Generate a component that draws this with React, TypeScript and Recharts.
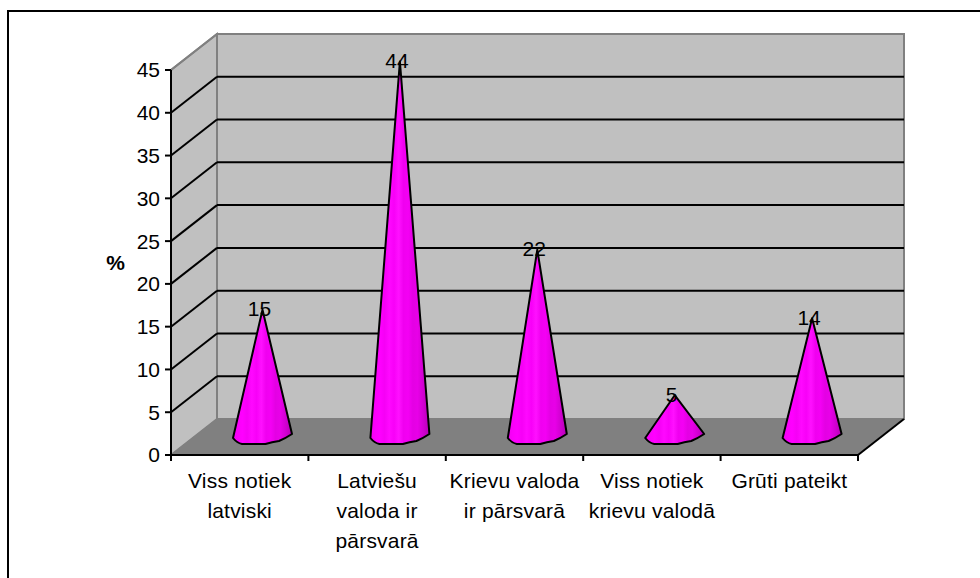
import React from "react";
import { BarChart, Bar, XAxis, YAxis, CartesianGrid, LabelList } from "recharts";

const categories = [
    "Viss notiek\nlatviski",
    "Latviešu\nvaloda ir\npārsvarā",
    "Krievu valoda\nir pārsvarā",
    "Viss notiek\nkrievu valodā",
    "Grūti pateikt",
];
const values = [15, 44, 22, 5, 14];
const yTicks = [0, 5, 10, 15, 20, 25, 30, 35, 40, 45];

const data = categories.map((name, i) => ({ name, value: values[i] }));

const FONT = "'Liberation Sans', Arial, sans-serif";
const WIDTH = 980;
const HEIGHT = 578;
const LEFT = 171;
const RIGHT = 858;
const TOP = 70;
const BOTTOM = 455;
// offset of the back wall from the front axes
const DX = 46;
const DY = -36;
const BAND = (RIGHT - LEFT) / categories.length;

const coneStops = [
    ["0%", "#f000f0"],
    ["8%", "#fa00fa"],
    ["16%", "#ff00ff"],
    ["24%", "#f600f6"],
    ["32%", "#ff08ff"],
    ["40%", "#f800f8"],
    ["48%", "#ff10ff"],
    ["56%", "#f000f0"],
    ["64%", "#f400f4"],
    ["72%", "#e400e4"],
    ["80%", "#e800e8"],
    ["90%", "#d000d0"],
    ["100%", "#b400b4"],
];

const Cone = ({ x, y, width, height }: any) => {
    const cx = x + width / 2 + DX / 2;
    const by = y + height + DY / 2 + 1;
    const top = y + DY / 2 + 1;
    const r = width / 2;
    const d = [
        `M${cx} ${top}`,
        `L${cx + r} ${by - 4}`,
        `Q${cx + r - 6} ${by} ${cx + r - 13} ${by + 3}`,
        `Q${cx + r - 20} ${by + 4} ${cx + 3} ${by + 6}`,
        `L${cx - r + 9} ${by + 6}`,
        `Q${cx - r + 4} ${by + 5} ${cx - r} ${by}`,
        "Z",
    ].join(" ");
    return <path d={d} fill="url(#coneFill)" stroke="#000" strokeWidth={2} strokeLinejoin="round" />;
};

const ValueLabel = ({ x, y, width, value }: any) => (
    <text
        x={x + width / 2 + DX / 2 - 3}
        y={y + DY / 2}
        dy="0.35em"
        textAnchor="middle"
        fontFamily={FONT}
        fontSize={21}
        fill="#000"
    >
        {value}
    </text>
);

// ticks sit on the category boundaries, not under the labels
const CategoryTick = ({ x, y, payload, index }: any) => (
    <g>
        <line x1={x - BAND / 2} y1={y - 8} x2={x - BAND / 2} y2={y - 2} stroke="#000" strokeWidth={2} />
        {index === categories.length - 1 && (
            <line x1={x + BAND / 2} y1={y - 8} x2={x + BAND / 2} y2={y - 2} stroke="#000" strokeWidth={2} />
        )}
        <text x={x} y={y + 25} textAnchor="middle" fontFamily={FONT} fontSize={21} letterSpacing={0.2} fill="#000">
            {String(payload.value).split("\n").map((line, i) => (
                <tspan key={i} x={x} dy={i === 0 ? 0 : 30}>{line}</tspan>
            ))}
        </text>
    </g>
);

// each horizontal grid line runs along the side wall and then the back wall
const WallLine = ({ x1, x2, y1 }: any) => {
    if (Math.abs(y1 - BOTTOM) < 1) return <g />;
    const isTop = Math.abs(y1 - TOP) < 1;
    return (
        <g>
            <line x1={x1} y1={y1} x2={x1 + DX} y2={y1 + DY} stroke={isTop ? "#808080" : "#000"} strokeWidth={2} />
            {!isTop && <line x1={x1 + DX} y1={y1 + DY} x2={x2 + DX} y2={y1 + DY} stroke="#000" strokeWidth={2} />}
        </g>
    );
};

const Walls = () => (
    <svg width={WIDTH} height={HEIGHT} style={{ position: "absolute", left: 0, top: 0 }}>
        <polygon
            points={`${LEFT},${TOP} ${LEFT + DX},${TOP + DY} ${LEFT + DX},${BOTTOM + DY} ${LEFT},${BOTTOM}`}
            fill="#c0c0c0"
            stroke="#808080"
            strokeWidth={2}
        />
        <polygon
            points={`${LEFT + DX},${TOP + DY} ${RIGHT + DX},${TOP + DY} ${RIGHT + DX},${BOTTOM + DY} ${LEFT + DX},${BOTTOM + DY}`}
            fill="#c0c0c0"
            stroke="#808080"
            strokeWidth={2}
        />
        <polygon
            points={`${LEFT},${BOTTOM} ${LEFT + DX},${BOTTOM + DY} ${RIGHT + DX},${BOTTOM + DY} ${RIGHT},${BOTTOM}`}
            fill="#808080"
            stroke="#808080"
            strokeWidth={1}
        />
        <line x1={RIGHT} y1={BOTTOM} x2={RIGHT + DX} y2={BOTTOM + DY} stroke="#000" strokeWidth={2} />
    </svg>
);

export default function App() {
    return (
        <div style={{ position: "absolute", left: 0, top: 0, width: WIDTH, height: HEIGHT, overflow: "hidden", background: "#fff" }}>
            <div style={{ position: "absolute", left: 7, top: 10, width: WIDTH, height: HEIGHT, border: "2px solid #000" }} />
            <Walls />
            <div style={{ position: "absolute", left: 0, top: 0 }}>
                <BarChart
                    width={WIDTH}
                    height={HEIGHT}
                    data={data}
                    barSize={59}
                    margin={{ top: TOP, right: WIDTH - RIGHT, bottom: HEIGHT - BOTTOM - 60, left: LEFT - 60 }}
                >
                    <defs>
                        <linearGradient id="coneFill" x1="0" y1="0" x2="1" y2="0">
                            {coneStops.map(([offset, color]) => (
                                <stop key={offset} offset={offset} stopColor={color} />
                            ))}
                        </linearGradient>
                    </defs>
                    <CartesianGrid vertical={false} horizontal={(props: any) => <WallLine key={props.key} {...props} />} />
                    <XAxis
                        dataKey="name"
                        height={60}
                        interval={0}
                        tick={<CategoryTick />}
                        tickLine={false}
                        tickSize={6}
                        axisLine={{ stroke: "#000", strokeWidth: 2 }}
                    />
                    <YAxis
                        width={60}
                        domain={[0, 45]}
                        ticks={yTicks}
                        interval={0}
                        tickSize={6}
                        tickMargin={5}
                        axisLine={{ stroke: "#000", strokeWidth: 2 }}
                        tickLine={{ stroke: "#000", strokeWidth: 2 }}
                        tick={{ fill: "#000", fontFamily: FONT, fontSize: 21 }}
                        label={{ value: "%", position: "left", offset: -14, fill: "#000", fontFamily: FONT, fontSize: 21, fontWeight: "bold" }}
                    />
                    <Bar dataKey="value" shape={<Cone />} isAnimationActive={false}>
                        <LabelList dataKey="value" content={<ValueLabel />} />
                    </Bar>
                </BarChart>
            </div>
        </div>
    );
}
